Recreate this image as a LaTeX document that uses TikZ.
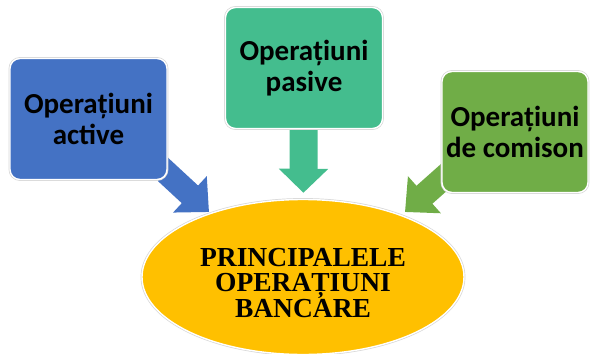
\documentclass[tikz,border=0pt]{standalone}
\usepackage{fontspec}
\setmainfont{Liberation Serif}
\newfontfamily\boxfont{Carlito}
\usetikzlibrary{arrows.meta,backgrounds,shapes.geometric}
\definecolor{actblue}{HTML}{4472C4}
\definecolor{pasgreen}{HTML}{44BD8E}
\definecolor{comgreen}{HTML}{70AD47}
\definecolor{coreyellow}{HTML}{FFC000}
\begin{document}
\begin{tikzpicture}[x=1pt,y=-1pt,
  rim/.style={draw=white, line width=1.4pt,
    preaction={draw=black!16, line width=2.8pt}},
  opbox/.style={rim, rounded corners=10pt,
    minimum width=157pt, minimum height=121pt, inner sep=0pt, align=center,
    font=\boxfont\bfseries\fontsize{29}{31}\selectfont},
  core/.style={rim, ellipse, fill=coreyellow,
    minimum width=322pt, minimum height=155pt, inner sep=0pt, align=center,
    font=\bfseries\fontsize{27.5}{25.5}\selectfont},
  blockarrow/.style={line width=24pt, -{Triangle[length=26pt,width=48pt]}}
]
\useasboundingbox (0,0) rectangle (590,354);

% the three groups of operations
\node[opbox, fill=actblue] (act) at (88.5,119) {Operațiuni\\active};
\node[opbox, fill=pasgreen] (pas) at (304,68) {Operațiuni\\pasive};
\node[opbox, fill=comgreen, minimum width=146pt] (com) at (515,132) {Operațiuni\\de comison};

% central ellipse
\node[core] (ell) at (303,277) {\rule{0pt}{30pt}PRINCIPALELE\\OPERAȚIUNI\\BANCARE};

% arrow tips resting on the ellipse rim
\coordinate (tipA) at (209,212);
\coordinate (tipC) at (405,212);

% block arrows, kept behind the boxes
\begin{scope}[on background layer]
  \draw[blockarrow, draw=actblue] ([xshift=20pt]act.center) -- (tipA);
  \draw[blockarrow, draw=pasgreen, line width=28pt, shorten >=6pt,
        -{Triangle[length=24pt,width=48pt]}] (pas.center) -- (ell);
  \draw[blockarrow, draw=comgreen] ([xshift=-20pt]com.center) -- (tipC);
\end{scope}
\end{tikzpicture}
\end{document}
